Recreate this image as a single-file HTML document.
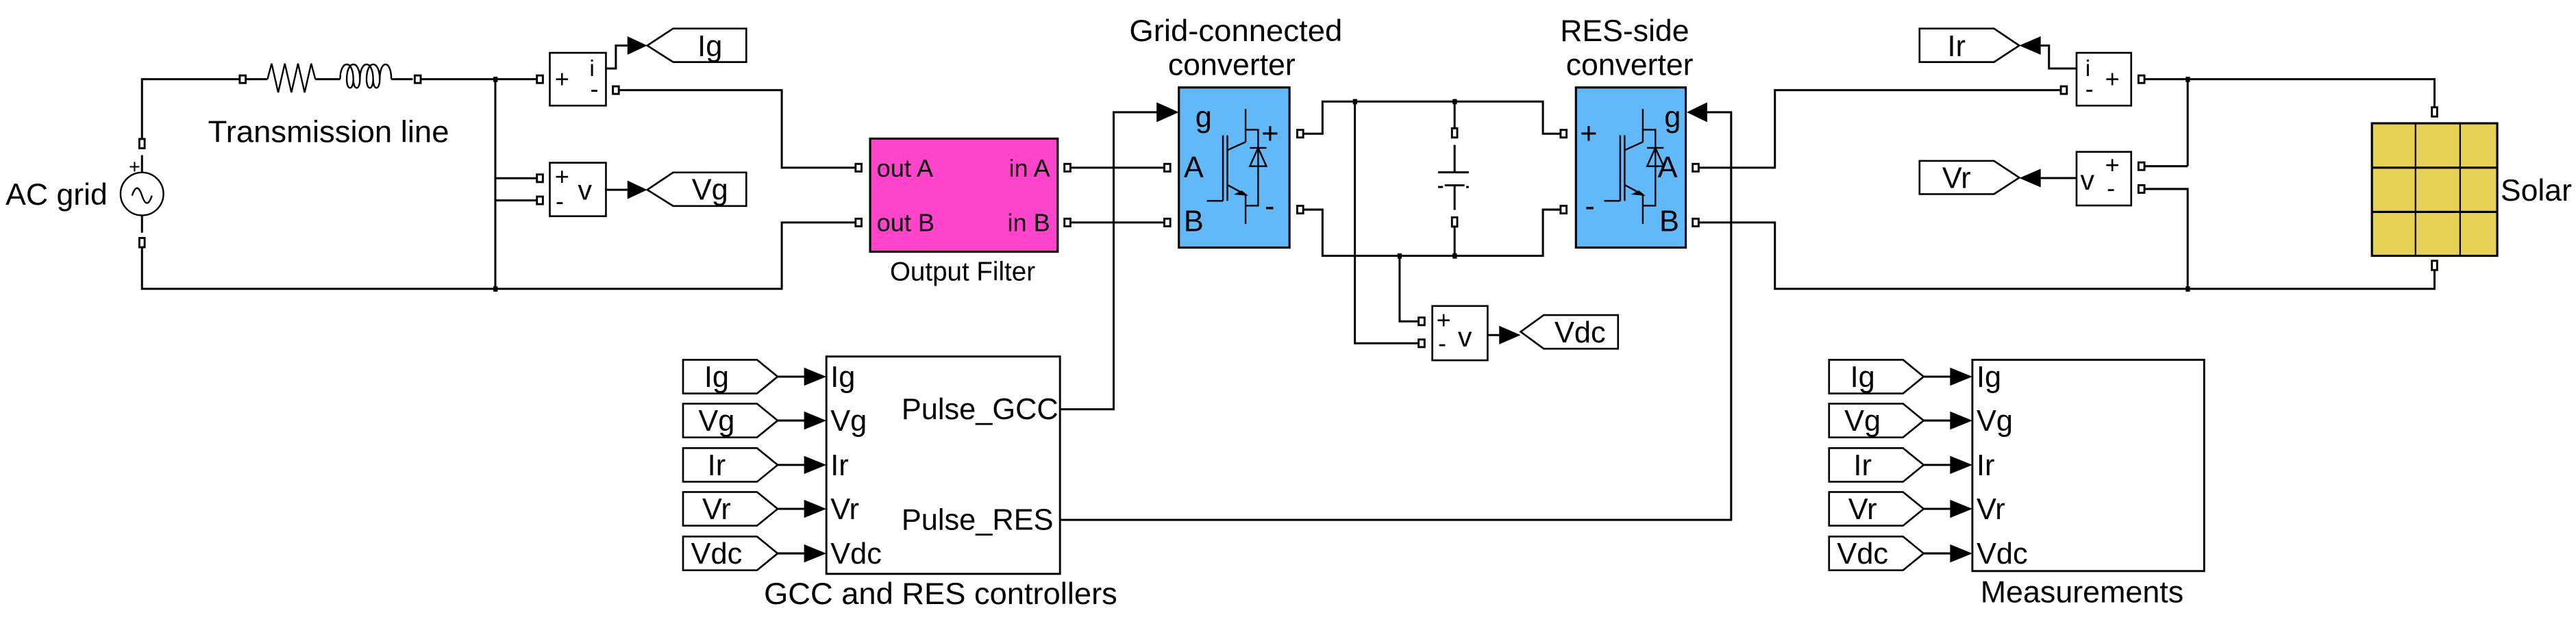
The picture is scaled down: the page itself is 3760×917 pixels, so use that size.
<!DOCTYPE html>
<html><head><meta charset="utf-8"><style>
html,body{margin:0;padding:0;background:#fff;}
svg{display:block;}
text{font-family:"Liberation Sans",Arial,sans-serif;fill:#000;}
</style></head><body>
<svg width="3760" height="917" viewBox="0 0 1560.2 380.5" preserveAspectRatio="none" xmlns="http://www.w3.org/2000/svg">
<defs>
<g id="port"><rect x="-1.8" y="-2.3" width="3.6" height="4.6" fill="#fff" stroke="#000" stroke-width="1.2"/></g>
<g id="vport"><rect x="-1.6" y="-2.8" width="3.2" height="5.6" fill="#fff" stroke="#000" stroke-width="1.2"/></g>
<g id="igbt" fill="none" stroke="#000" stroke-width="1">
 <line x1="731" y1="121.7" x2="740.7" y2="121.7"/>
 <line x1="740.7" y1="82" x2="740.7" y2="121.7"/>
 <line x1="743.4" y1="82" x2="743.4" y2="121.7"/>
 <line x1="743.4" y1="91" x2="754.4" y2="86"/>
 <line x1="754.4" y1="66" x2="754.4" y2="86"/>
 <line x1="743.4" y1="112" x2="754.4" y2="118"/>
 <line x1="754.4" y1="118" x2="754.4" y2="135.7"/>
 <polyline points="754.4,78.6 762,78.6 762,124.6 754.4,124.6"/>
 <line x1="757" y1="89.6" x2="767" y2="89.6"/>
 <polygon points="762,89.6 757,100.7 767,100.7"/>
 <polygon points="752,116 754.4,118 749,117.5" fill="#000"/>
</g>
</defs>

<g fill="none" stroke="#000" stroke-width="1.25">
<!-- left grid loop -->
<polyline points="146,48 86,48 86,87"/>
<line x1="86" y1="94" x2="86" y2="104.5"/>
<line x1="86" y1="130.5" x2="86" y2="141"/>
<polyline points="86,147 86,175 473.5,175 473.5,134.8 520,134.8"/>
<line x1="253" y1="48" x2="326" y2="48"/>
<line x1="300" y1="48" x2="300" y2="175"/>
<line x1="300" y1="108" x2="326" y2="108"/>
<line x1="300" y1="121.4" x2="326" y2="121.4"/>
<polyline points="373,54.6 473.5,54.6 473.5,101.6 520,101.6"/>
<polyline points="367,41.5 373,41.5 373,27.6 381,27.6"/>
<line x1="367" y1="115" x2="381" y2="115"/>
<!-- resistor & inductor -->
<line x1="149" y1="48" x2="162" y2="48"/>
<polyline stroke-width="1" points="162,48 164.5,38.5 168.5,56 172.5,38.5 176.5,56 180.5,38.5 184.5,56 188.5,38.5 191,48"/>
<line x1="191" y1="48" x2="206" y2="48"/>
<path stroke-width="1" d="M206,48 C206,36 214,36 214,48 C214,55 210,55 210,48 C210,36 218,36 218,48 C218,55 214,55 214,48 M218,48 C218,36 226,36 226,48 C226,55 222,55 222,48 C222,36 230,36 230,48 C230,55 226,55 226,48 M230,48 C230,36 237,36 237,48"/>
<line x1="237" y1="48" x2="250" y2="48"/>
<!-- AC source -->
<circle cx="86" cy="117.5" r="13" stroke-width="1"/>
<path stroke-width="1" d="M80,118.5 q3,-9 6,0 q3,9 6,0"/>
<!-- filter -> GCC -->
<line x1="646.5" y1="101.6" x2="707" y2="101.6"/>
<line x1="646.5" y1="134.8" x2="707" y2="134.8"/>
<polyline points="642,248 674.5,248 674.5,68 701,68"/>
<!-- DC link -->
<polyline points="787,81 801,81 801,61.5 934.5,61.5 934.5,81 947,81"/>
<polyline points="787,127 801,127 801,155 934.5,155 934.5,127 947,127"/>
<polyline points="820.6,61.5 820.6,208 860.6,208"/>
<polyline points="847.7,155 847.7,194.7 860.6,194.7"/>
<line x1="881" y1="61.5" x2="881" y2="78"/>
<line x1="881" y1="87.8" x2="881" y2="104.4"/>
<line x1="871" y1="104.4" x2="889.6" y2="104.4"/>
<line x1="875" y1="112.3" x2="887" y2="112.3"/>
<line x1="871" y1="113.3" x2="874" y2="113.3"/>
<line x1="888" y1="113.3" x2="889.6" y2="113.3"/>
<line x1="881" y1="112.3" x2="881" y2="127.2"/>
<line x1="881" y1="137" x2="881" y2="155"/>
<line x1="901" y1="203" x2="908" y2="203"/>
<!-- RES side -->
<polyline points="642,315 1048.5,315 1048.5,68 1034,68"/>
<polyline points="1027,101.6 1075,101.6 1075,54.6 1250,54.6"/>
<polyline points="1027,134.8 1075,134.8 1075,175 1474.5,175 1474.5,163.5"/>
<polyline points="1297,48 1474.5,48 1474.5,65"/>
<line x1="1325" y1="48" x2="1325" y2="100.7"/>
<line x1="1297" y1="100.7" x2="1325" y2="100.7"/>
<polyline points="1297,114.5 1325,114.5 1325,175"/>
<polyline points="1257.7,41.5 1241,41.5 1241,27.6 1236,27.6"/>
<line x1="1257.7" y1="107.9" x2="1236" y2="107.9"/>
</g>

<!-- junction dots -->
<g fill="#000">
<rect x="298.8" y="46.5" width="2.6" height="3.2"/>
<rect x="298.8" y="173.5" width="2.6" height="3.2"/>
<rect x="819.4" y="60" width="2.6" height="3.2"/>
<rect x="879.8" y="60" width="2.6" height="3.2"/>
<rect x="846.4" y="153.5" width="2.6" height="3.2"/>
<rect x="879.8" y="153.5" width="2.6" height="3.2"/>
<rect x="1323.8" y="46.5" width="2.6" height="3.2"/>
<rect x="1323.8" y="173.5" width="2.6" height="3.2"/>
</g>

<!-- ports -->
<use href="#vport" x="86" y="87"/><use href="#vport" x="86" y="147"/>
<use href="#port" x="147" y="48"/><use href="#port" x="253" y="48"/>
<use href="#port" x="327" y="48"/><use href="#port" x="373" y="54.6"/>
<use href="#port" x="327" y="108"/><use href="#port" x="327" y="121.4"/>
<use href="#port" x="520" y="101.6"/><use href="#port" x="520" y="134.8"/>
<use href="#port" x="646.5" y="101.6"/><use href="#port" x="646.5" y="134.8"/>
<use href="#port" x="707" y="101.6"/><use href="#port" x="707" y="134.8"/>
<use href="#port" x="787.5" y="81"/><use href="#port" x="787.5" y="127"/>
<use href="#port" x="947" y="81"/><use href="#port" x="947" y="127"/>
<use href="#port" x="1027" y="101.6"/><use href="#port" x="1027" y="134.8"/>
<use href="#vport" x="881" y="80.5"/><use href="#vport" x="881" y="134.5"/>
<use href="#port" x="861" y="194.7"/><use href="#port" x="861" y="208"/>
<use href="#port" x="1250" y="54.6"/><use href="#port" x="1297" y="48"/>
<use href="#port" x="1297" y="100.7"/><use href="#port" x="1297" y="114.5"/>
<use href="#vport" x="1474.5" y="67.8"/><use href="#vport" x="1474.5" y="160.8"/>

<!-- measurement boxes -->
<g fill="#fff" stroke="#000" stroke-width="1.1">
<rect x="333" y="32" width="34" height="32"/>
<rect x="333" y="98.6" width="34" height="32.4"/>
<rect x="867.5" y="185.4" width="33.5" height="32.9"/>
<rect x="1257.7" y="32" width="33.1" height="32"/>
<rect x="1257.7" y="92" width="33.1" height="32.5"/>
</g>
<g font-size="15">
<text x="336" y="53">+</text><text x="357" y="46" font-size="14">i</text><text x="357.5" y="59">-</text>
<text x="336" y="112">+</text><text x="336.5" y="127">-</text><text x="350" y="121" font-size="17">v</text>
<text x="870" y="199">+</text><text x="871" y="213">-</text><text x="883" y="210" font-size="17">v</text>
<text x="1263" y="46" font-size="14">i</text><text x="1263" y="59">-</text><text x="1275" y="53">+</text>
<text x="1260" y="115" font-size="17">v</text><text x="1275" y="105">+</text><text x="1276" y="119">-</text>
</g>

<!-- arrows -->
<g fill="#000">
<polygon points="380,22 392,27.6 380,33.2"/>
<polygon points="380,109.4 392,115 380,120.6"/>
<polygon points="700.5,62 714,68 700.5,74"/>
<polygon points="1034,62 1021.6,68 1034,74"/>
<polygon points="908,197.4 921,203 908,208.6"/>
<polygon points="1236,22 1223,27.6 1236,33.2"/>
<polygon points="1236,102.3 1223,107.9 1236,113.5"/>
</g>

<!-- goto tags -->
<g fill="#fff" stroke="#000" stroke-width="1.1">
<polygon points="392,27.6 407.7,17.3 452,17.3 452,37.6 407.7,37.6"/>
<polygon points="392,115 407.7,104.5 452,104.5 452,124.8 407.7,124.8"/>
<polygon points="921,201 935,190.9 980,190.9 980,211.3 935,211.3"/>
<polygon points="1223,27.6 1207.7,17.3 1162.6,17.3 1162.6,37.6 1207.7,37.6"/>
<polygon points="1223,107.6 1207.7,97.5 1162.6,97.5 1162.6,117.6 1207.7,117.6"/>
</g>
<g font-size="18" text-anchor="middle">
<text x="430" y="34">Ig</text>
<text x="430" y="121">Vg</text>
<text x="957" y="207.5">Vdc</text>
<text x="1185" y="34">Ir</text>
<text x="1185" y="114">Vr</text>
</g>

<!-- Output filter -->
<rect x="527" y="84" width="113.6" height="68.5" fill="#ff44cc" stroke="#000" stroke-width="1.3"/>
<g font-size="15">
<text x="531" y="107">out A</text><text x="531" y="140">out B</text>
<text x="636" y="107" text-anchor="end">in A</text><text x="636" y="140" text-anchor="end">in B</text>
</g>
<text x="583" y="170" font-size="16" text-anchor="middle">Output Filter</text>

<!-- converters -->
<rect x="714" y="53" width="67" height="97" fill="#62b9f9" stroke="#000" stroke-width="1.3"/>
<rect x="954.5" y="53" width="66.5" height="97" fill="#62b9f9" stroke="#000" stroke-width="1.3"/>
<use href="#igbt"/>
<use href="#igbt" x="240.6"/>
<g font-size="18">
<text x="724" y="77">g</text><text x="717" y="107.5">A</text><text x="717" y="140">B</text>
<text x="764" y="87">+</text><text x="766" y="131">-</text>
<text x="1008" y="77">g</text><text x="1004" y="107.5">A</text><text x="1005" y="140">B</text>
<text x="957" y="87">+</text><text x="960" y="131">-</text>
</g>
<g font-size="18.5" text-anchor="middle">
<text x="748.5" y="25" textLength="129" lengthAdjust="spacingAndGlyphs">Grid-connected</text>
<text x="746" y="45.5">converter</text>
<text x="984" y="25">RES-side</text>
<text x="987" y="45.5">converter</text>
</g>

<!-- DC cap label none -->

<!-- Solar -->
<g stroke="#000">
<rect x="1436.6" y="74.7" width="75.9" height="80.3" fill="#e6d055" stroke-width="1.3"/>
<line x1="1463" y1="74.7" x2="1463" y2="155" stroke-width="0.9"/>
<line x1="1490" y1="74.7" x2="1490" y2="155" stroke-width="0.9"/>
<line x1="1436.6" y1="101.6" x2="1512.5" y2="101.6" stroke-width="1.3"/>
<line x1="1436.6" y1="128.4" x2="1512.5" y2="128.4" stroke-width="1.3"/>
</g>
<text x="1514.5" y="121.5" font-size="18.5">Solar</text>
<text x="3.4" y="124" font-size="18.5">AC grid</text>
<text x="78" y="105" font-size="12">+</text>
<text x="126" y="86" font-size="18.5" textLength="146" lengthAdjust="spacingAndGlyphs">Transmission line</text>

<!-- Controllers block -->
<rect x="500.5" y="216" width="141.5" height="131.7" fill="#fff" stroke="#000" stroke-width="1.2"/>
<rect x="1194.6" y="218" width="140.4" height="128" fill="#fff" stroke="#000" stroke-width="1.2"/>
<g font-size="18">
<text x="546" y="254">Pulse_GCC</text>
<text x="546" y="321">Pulse_RES</text>
</g>
<text x="569.7" y="366" font-size="18.4" text-anchor="middle" textLength="214" lengthAdjust="spacingAndGlyphs">GCC and RES controllers</text>
<text x="1261" y="365" font-size="18.6" text-anchor="middle" textLength="123" lengthAdjust="spacingAndGlyphs">Measurements</text>

<!-- From tags + inputs -->
<g id="ins">
<g fill="#fff" stroke="#000" stroke-width="1.1">
<polygon points="413.7,218 458.5,218 471,228.2 458.5,238.4 413.7,238.4"/>
<polygon points="413.7,244.6 458.5,244.6 471,254.8 458.5,265 413.7,265"/>
<polygon points="413.7,271.5 458.5,271.5 471,281.7 458.5,291.9 413.7,291.9"/>
<polygon points="413.7,298.1 458.5,298.1 471,308.3 458.5,318.5 413.7,318.5"/>
<polygon points="413.7,325.1 458.5,325.1 471,335.3 458.5,345.5 413.7,345.5"/>
</g>
<g stroke="#000" stroke-width="1.25">
<line x1="471" y1="228.2" x2="488" y2="228.2"/><line x1="471" y1="254.8" x2="488" y2="254.8"/>
<line x1="471" y1="281.7" x2="488" y2="281.7"/><line x1="471" y1="308.3" x2="488" y2="308.3"/>
<line x1="471" y1="335.3" x2="488" y2="335.3"/>
</g>
<g fill="#000">
<polygon points="487,222.7 500.5,228.2 487,233.7"/><polygon points="487,249.3 500.5,254.8 487,260.3"/>
<polygon points="487,276.2 500.5,281.7 487,287.2"/><polygon points="487,302.8 500.5,308.3 487,313.8"/>
<polygon points="487,329.8 500.5,335.3 487,340.8"/>
</g>
<g font-size="18" text-anchor="middle">
<text x="434" y="234.5">Ig</text><text x="434" y="261">Vg</text><text x="434" y="288">Ir</text>
<text x="434" y="314.5">Vr</text><text x="434" y="341.5">Vdc</text>
</g>
<g font-size="18">
<text x="503" y="234.5">Ig</text><text x="503" y="261">Vg</text><text x="503" y="288">Ir</text>
<text x="503" y="314.5">Vr</text><text x="503" y="341.5">Vdc</text>
</g>
</g>
<use href="#ins" x="694.1"/>
</svg>
</body></html>
